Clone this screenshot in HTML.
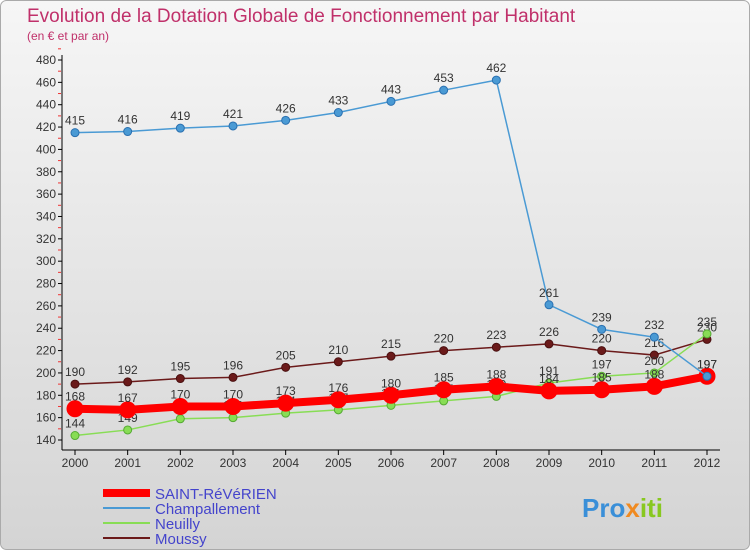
<!DOCTYPE html>
<html><head><meta charset="utf-8"><style>
body{margin:0;width:750px;height:550px;overflow:hidden;font-family:"Liberation Sans",sans-serif}
</style></head><body>
<svg width="750" height="550" xmlns="http://www.w3.org/2000/svg">
<defs><linearGradient id="bg" x1="0" y1="0" x2="0" y2="1"><stop offset="0" stop-color="#f6f6f6"/><stop offset="1" stop-color="#d4d4d4"/></linearGradient></defs>
<rect x="0.5" y="0.5" width="749" height="549" rx="6" fill="url(#bg)" stroke="#aaa"/>
<text x="27" y="22" font-size="19" fill="#c0306a">Evolution de la Dotation Globale de Fonctionnement par Habitant</text>
<text x="27" y="40" font-size="12" fill="#c0306a">(en € et par an)</text>
<g id="axes"></g><g id="series"></g>
<g>
<line x1="103" y1="493" x2="150" y2="493" stroke="#f00" stroke-width="8"/>
<text x="155" y="499" font-size="15" fill="#4444cc">SAINT-RéVéRIEN</text>
<line x1="103" y1="508" x2="150" y2="508" stroke="#4a9ad4" stroke-width="2"/>
<text x="155" y="514" font-size="15" fill="#4444cc">Champallement</text>
<line x1="103" y1="523" x2="150" y2="523" stroke="#88dd55" stroke-width="2"/>
<text x="155" y="529" font-size="15" fill="#4444cc">Neuilly</text>
<line x1="103" y1="538" x2="150" y2="538" stroke="#6b1a1a" stroke-width="2"/>
<text x="155" y="544" font-size="15" fill="#4444cc">Moussy</text>
</g>
<text x="582" y="517" font-size="26" font-weight="bold" fill="#3a8fd8">Pro<tspan fill="#f08a20">x</tspan><tspan fill="#88c820">iti</tspan></text>
</svg>
<script>
const years=[2000,2001,2002,2003,2004,2005,2006,2007,2008,2009,2010,2011,2012];
const yTicks=[140,160,180,200,220,240,260,280,300,320,340,360,380,400,420,440,460,480];
const saint=[168,167,170,170,173,176,180,185,188,184,185,188,197];
const champ=[415,416,419,421,426,433,443,453,462,261,239,232,197];
const neuilly=[144,149,159,160,164,167,171,175,179,191,197,200,235];
const moussy=[190,192,195,196,205,210,215,220,223,226,220,216,230];
const NS="http://www.w3.org/2000/svg";
const X=i=>75+i*(707-75)/(years.length-1);
const Y=v=>60+(480-v)*(380/340);
function mk(t,a,p){const e=document.createElementNS(NS,t);for(const k in a)e.setAttribute(k,a[k]);p.appendChild(e);return e;}
const ax=document.getElementById('axes');
mk('line',{x1:62,y1:55,x2:62,y2:450,stroke:'#000'},ax);
mk('line',{x1:62,y1:450,x2:720,y2:450,stroke:'#000'},ax);
yTicks.forEach(v=>{
 mk('line',{x1:58,y1:Y(v),x2:62,y2:Y(v),stroke:'#000'},ax);
 mk('line',{x1:58,y1:Y(v+10),x2:61,y2:Y(v+10),stroke:'#e33'},ax);
 const t=mk('text',{x:56,y:Y(v)+4,'font-size':12,'text-anchor':'end',fill:'#333'},ax);t.textContent=v;
 
});
years.forEach((yr,i)=>{
 mk('line',{x1:X(i),y1:450,x2:X(i),y2:455,stroke:'#000'},ax);
 const t=mk('text',{x:X(i),y:467,'font-size':12,'text-anchor':'middle',fill:'#333'},ax);t.textContent=yr;
 
});
const sg=document.getElementById('series');
function draw(name,vals,col,w,r,stroke){
 const g=mk('g',{},sg);
 mk('polyline',{points:vals.map((v,i)=>X(i)+','+Y(v)).join(' '),fill:'none',stroke:col,'stroke-width':w},g);
 vals.forEach((v,i)=>{
  const c=mk('circle',{cx:X(i),cy:Y(v),r:r,fill:col,stroke:stroke,'stroke-width':1},g);
  
  const t=mk('text',{x:X(i),y:Y(v)-8,'font-size':12,'text-anchor':'middle',fill:'#333'},g);t.textContent=v;
  
 });
}
draw('moussy',moussy,'#6b1a1a',1.5,4,'#4a1010');
draw('neuilly',neuilly,'#88dd55',1.5,4,'#55aa33');
draw('saint-reverien',saint,'#f00',8,8,'#f00');
draw('champallement',champ,'#4a9ad4',1.5,4,'#2a70b0');
</script>
</body></html>
